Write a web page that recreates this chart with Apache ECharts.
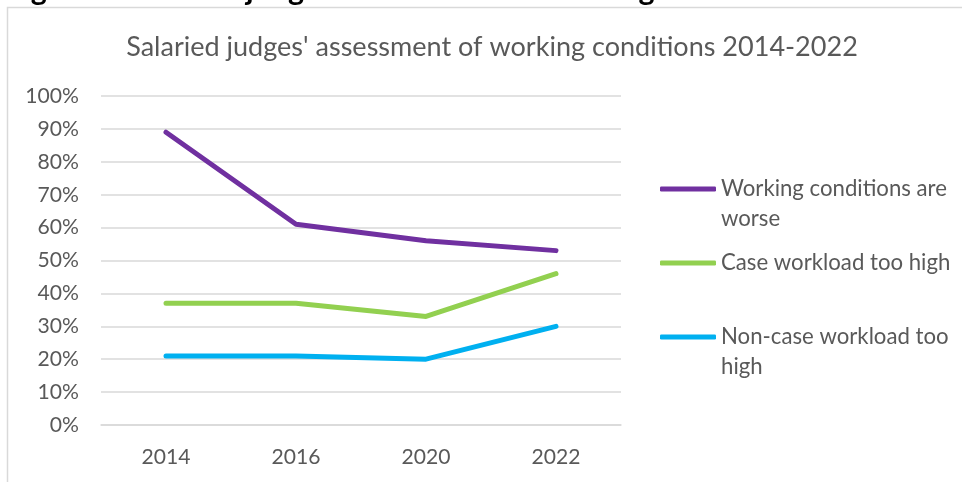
<!DOCTYPE html>
<html>
<head>
<meta charset="utf-8">
<script src="https://cdn.jsdelivr.net/npm/echarts@6/dist/echarts.min.js"></script>
<style>
  html, body { margin: 0; padding: 0; background: #ffffff; }
  #chart { width: 962px; height: 482px; }
</style>
</head>
<body>
<div id="chart"></div>
<script>
const categories = ['2014', '2016', '2020', '2022'];
const seriesNames = ['Working conditions are worse', 'Case workload too high', 'Non-case workload too high'];
const worseValues = [89, 61, 56, 53];
const caseWorkloadValues = [37, 37, 33, 46];
const nonCaseWorkloadValues = [21, 21, 20, 30];
const yTickMin = 0, yTickMax = 100, yTickStep = 10;
const titleText = "Salaried judges' assessment of working conditions 2014-2022";
const captionText = "Figure 4: Salaried judges' assessment of working conditions 2014-2022";

const FONT = 'Lato';
const TEXT = '#595959';
const GRID = '#d9d9d9';
const COLORS = ['#7030A0', '#92D050', '#00B0F0'];

const ctx = document.createElement('canvas').getContext('2d');
function fitSize(text, weight, target) {
  ctx.font = weight + ' 100px ' + FONT;
  return 100 * target / ctx.measureText(text).width;
}
const titleSize = fitSize(titleText, 'normal', 732);
const axisSize = fitSize('2014', 'normal', 49);
const legendSize = fitSize('Working conditions are', 'normal', 226);
const captionSize = fitSize("Figure 4: Salaried judges' assessment of workin", 'bold', 633);

const legendLabels = {
  'Working conditions are worse': '\nWorking conditions are\nworse',
  'Case workload too high': 'Case workload too high',
  'Non-case workload too high': '\nNon-case workload too\nhigh'
};
const LH = 29.5;
function legendFor(name, centerY, lines) {
  return {
    data: [name],
    orient: 'vertical',
    left: 660,
    top: centerY - lines * LH / 2,
    padding: 0,
    itemWidth: 56,
    itemHeight: 5,
    itemGap: 0,
    icon: 'roundRect',
    selectedMode: false,
    formatter: n => legendLabels[n],
    textStyle: { fontFamily: FONT, fontSize: legendSize, color: TEXT, lineHeight: LH }
  };
}

const chart = echarts.init(document.getElementById('chart'), null, { renderer: 'canvas' });
chart.setOption({
  animation: false,
  backgroundColor: '#ffffff',
  color: COLORS,
  grid: { left: 101, right: 341, top: 96, bottom: 57, containLabel: false },
  graphic: [
    {
      type: 'rect', silent: true,
      shape: { x: 7.5, y: 7.5, width: 1000, height: 1000 },
      style: { fill: 'none', stroke: GRID, lineWidth: 1.5 }
    },
    {
      type: 'text', silent: true, x: 6, y: -0.32 * captionSize,
      style: { text: captionText, fontFamily: FONT, fontWeight: 'bold', fontSize: captionSize, fill: '#000', verticalAlign: 'middle' }
    },
    {
      type: 'text', silent: true, x: 492, y: 47,
      style: { text: titleText, fontFamily: FONT, fontSize: titleSize, fill: TEXT, align: 'center', verticalAlign: 'middle' }
    }
  ],
  legend: [
    legendFor(seriesNames[0], 189, 3),
    legendFor(seriesNames[1], 263, 1),
    legendFor(seriesNames[2], 337, 3)
  ],
  xAxis: {
    type: 'category',
    data: categories,
    boundaryGap: true,
    axisLine: { show: true, lineStyle: { color: GRID, width: 1.5 } },
    axisTick: { show: false },
    axisLabel: { color: TEXT, fontFamily: FONT, fontSize: axisSize, margin: 22 }
  },
  yAxis: {
    type: 'value',
    min: yTickMin, max: yTickMax, interval: yTickStep,
    axisLine: { show: false },
    axisTick: { show: false },
    splitLine: { lineStyle: { color: GRID, width: 1.5 } },
    axisLabel: { color: TEXT, fontFamily: FONT, fontSize: axisSize, margin: 22, formatter: '{value}%' }
  },
  series: [
    { name: seriesNames[0], type: 'line', data: worseValues },
    { name: seriesNames[1], type: 'line', data: caseWorkloadValues },
    { name: seriesNames[2], type: 'line', data: nonCaseWorkloadValues }
  ].map(s => Object.assign(s, {
    symbol: 'none',
    smooth: false,
    lineStyle: { width: 5, cap: 'round', join: 'round' },
    emphasis: { disabled: true }
  }))
});
</script>
</body>
</html>
